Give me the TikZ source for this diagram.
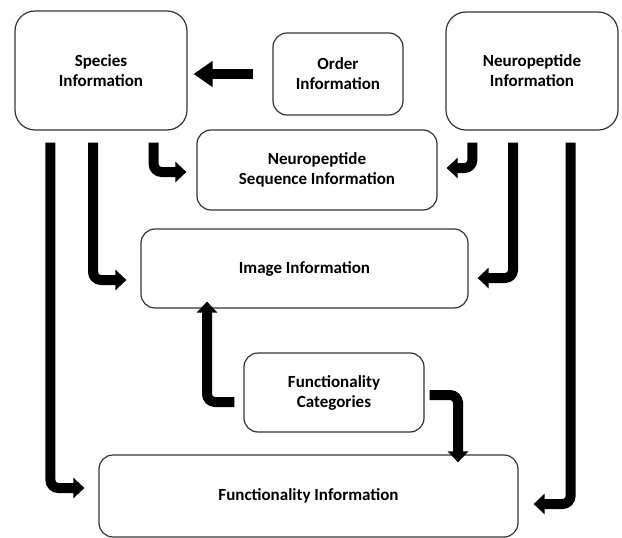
\documentclass[tikz,border=0pt]{standalone}
\usepackage{fontspec}
\setmainfont{Carlito}
\usetikzlibrary{arrows.meta,calc}
\begin{document}
\begin{tikzpicture}[x=1pt,y=-1pt,
  box/.style={draw=black!80, line width=1.2pt, rounded corners=#1, align=center,
    font=\fontsize{17}{20}\selectfont\bfseries, inner sep=0pt},
  box/.default=14pt,
  arr/.style={line width=10pt, -{Triangle[width=20pt,length=11pt]}, rounded corners=8pt},
  bigarr/.style={line width=10pt, -{Triangle[width=25pt,length=19pt]}}]
\useasboundingbox (0,0) rectangle (622,538);
\node[box=20pt, minimum width=172pt, minimum height=119pt] (sp) at (101,70.5) {Species\\Information};
\node[box, minimum width=130pt, minimum height=82pt] (ord) at (338,74) {Order\\Information};
\node[box=20pt, minimum width=172pt, minimum height=118pt] (np) at (532,71) {Neuropeptide\\Information};
\node[box, minimum width=240pt, minimum height=80pt] (nsi) at (317,170) {Neuropeptide\\Sequence Information};
\node[box, minimum width=327pt, minimum height=79pt] (img) at (304.5,268.5) {Image Information};
\node[box, minimum width=180pt, minimum height=79pt] (fc) at (334,392.5) {Functionality\\Categories};
\node[box, minimum width=419pt, minimum height=82pt] (fi) at (308.5,496) {Functionality Information};

% Order -> Species
\draw[bigarr, shorten <=19pt, shorten >=6pt] (ord.west) -- (ord.west -| sp.east);
% Species -> NSI
\draw[arr] ([xshift=-34pt,yshift=-12pt]sp.south east) |- ([xshift=-10pt,yshift=-2pt]nsi.west);
% Neuropeptide -> NSI
\draw[arr] ([xshift=27pt,yshift=-12pt]np.south west) |- ([xshift=9pt,yshift=2pt]nsi.east);
% Species -> Image
\draw[arr] ([xshift=-8pt,yshift=-12pt]sp.south) |- ([xshift=-14pt,yshift=-11.5pt]img.west);
% Species -> Functionality Information
\draw[arr] ([xshift=36pt,yshift=-12pt]sp.south west) |- ([xshift=-14pt,yshift=8pt]fi.west);
% Neuropeptide -> Image
\draw[arr] ([xshift=-19pt,yshift=-12pt]np.south) |- ([xshift=9pt,yshift=-9.5pt]img.east);
% Neuropeptide -> Functionality Information
\draw[arr] ([xshift=-48pt,yshift=-12pt]np.south east) |- ([xshift=15pt,yshift=-8pt]fi.east);
% Functionality Categories -> Image
\draw[arr] ([xshift=-9pt,yshift=-9.5pt]fc.west) -| ([xshift=-97.5pt,yshift=7pt]img.south);
% Functionality Categories -> Functionality Information
\draw[arr] ([xshift=5pt,yshift=-2.5pt]fc.east) -| ([xshift=149.5pt,yshift=-8pt]fi.north);
\end{tikzpicture}
\end{document}
